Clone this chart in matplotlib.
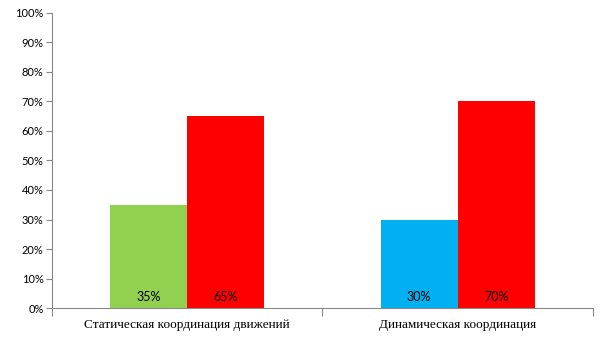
import numpy as np
import matplotlib.pyplot as plt

categories = ['Статическая координация движений', 'Динамическая координация']
first_vals = [35, 30]
second_vals = [65, 70]
first_colors = ['#92d050', '#00b0f0']
second_color = '#ff0000'

fig = plt.figure(figsize=(6.05, 3.40), dpi=100)
ax = fig.add_axes([0.086, 0.094, 0.894, 0.868])

x = np.arange(len(categories))
w = 0.285
ax.bar(x - w / 2, first_vals, w, color=first_colors)
ax.bar(x + w / 2, second_vals, w, color=second_color)

for xi, v in zip(x - w / 2, first_vals):
    ax.text(xi, 3.7, f'{v}%', ha='center', va='center', fontsize=9, family='Lato')
for xi, v in zip(x + w / 2, second_vals):
    ax.text(xi, 3.7, f'{v}%', ha='center', va='center', fontsize=9, family='Lato')

ax.set_xlim(-0.5, 1.5)
ax.set_ylim(0, 100)
ax.set_yticks(range(0, 101, 10))
ax.set_yticklabels([f'{t}%' for t in range(0, 101, 10)], family='Lato', fontsize=8)

# category boundaries carry the tick marks, labels sit in the middle
ax.set_xticks([-0.5, 0.5, 1.5])
ax.set_xticklabels([])
ax.set_xticks(x, minor=True)
ax.set_xticklabels(categories, minor=True, family='Liberation Serif', fontsize=9.5)
ax.tick_params(axis='x', which='minor', length=0, pad=8)
ax.tick_params(axis='x', which='major', length=6, color='#888888', direction='out')
ax.tick_params(axis='y', length=4, color='#888888', pad=2)

for s in ['top', 'right']:
    ax.spines[s].set_visible(False)
for s in ['left', 'bottom']:
    ax.spines[s].set_color('#888888')

fig.savefig('out.png', dpi=100)
